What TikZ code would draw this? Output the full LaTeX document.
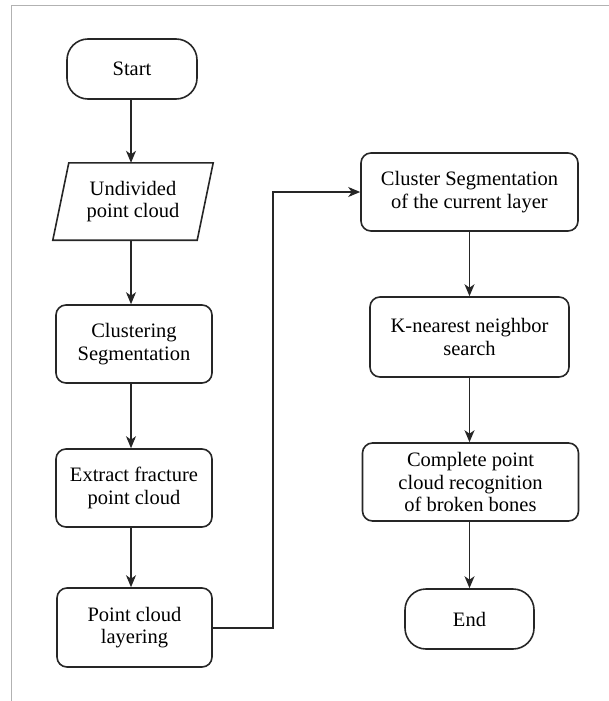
\documentclass[tikz,border=0pt]{standalone}
\usepackage{fontspec}
\setmainfont{Liberation Serif}
\newfontfamily\tnrfont{Liberation Serif}
\usetikzlibrary{arrows.meta}
\begin{document}
\begin{tikzpicture}[x=1pt,y=-1pt,
  every node/.style={font=\tnrfont\fontsize{20.5}{22.5}\selectfont, align=center, inner sep=0pt, text=black},
  terminal/.style={draw=black!85, line width=1.6pt, rectangle, rounded corners=21pt, minimum width=130pt, minimum height=60pt},
  procbox/.style={draw=black!85, line width=1.6pt, rectangle, rounded corners=10pt, minimum height=78pt},
  flow/.style={draw=black!85, line width=1.4pt, -{Stealth[length=12pt,width=10pt,inset=3.5pt]}},
  frameline/.style={draw=black!30, line width=1.2pt}
]
\useasboundingbox (0,0) rectangle (609,701);
\draw[frameline] (11.5,701) -- (11.5,5.5) -- (609,5.5);

% left column
\node[terminal] (start) at (132,69) {Start};
\node[minimum width=160pt, minimum height=77pt] (para) at (133,201.5) {Undivided\\point cloud};
\draw[draw=black!85, line width=1.6pt] ([xshift=16pt]para.north west) -- (para.north east)
  -- ([xshift=-16pt]para.south east) -- (para.south west) -- cycle;
\node[procbox, minimum width=156pt] (clus) at (134,344) {Clustering\\Segmentation};
\node[procbox, minimum width=156pt] (extr) at (134,488) {Extract fracture\\point cloud};
\node[procbox, minimum width=155pt, minimum height=79pt] (layer) at (134.5,627.5) {Point cloud\\layering};

% right column
\node[procbox, minimum width=217pt] (cseg) at (469.5,192) {Cluster Segmentation\\of the current layer};
\node[procbox, minimum width=199pt, minimum height=80pt] (knn) at (469.5,337) {K-nearest neighbor\\search};
\node[procbox, minimum width=216pt] (comp) at (470.5,482) {Complete point\\cloud recognition\\of broken bones};
\node[terminal, minimum width=129pt] (end) at (469.5,619) {End};

\coordinate (elbowA) at (273,628);
\coordinate (elbowB) at (273,192);

\draw[flow] ([xshift=-1pt]start.south) -- ([xshift=-1pt]start.south |- para.north);
\draw[flow] ([xshift=-2pt]para.south) -- ([xshift=-2pt]para.south |- clus.north);
\draw[flow] ([xshift=-3pt]clus.south) -- ([xshift=-3pt]clus.south |- extr.north);
\draw[flow] ([xshift=-3pt]extr.south) -- ([xshift=-3pt]extr.south |- layer.north);
\draw[flow] (layer.east |- elbowA) -- (elbowA) -- (elbowB) -- (cseg.west);
\draw[flow] (cseg.south) -- (cseg.south |- knn.north);
\draw[flow] (knn.south) -- (knn.south |- comp.north);
\draw[flow] ([xshift=-1pt]comp.south) -- ([xshift=-1pt]comp.south |- end.north);
\end{tikzpicture}
\end{document}
